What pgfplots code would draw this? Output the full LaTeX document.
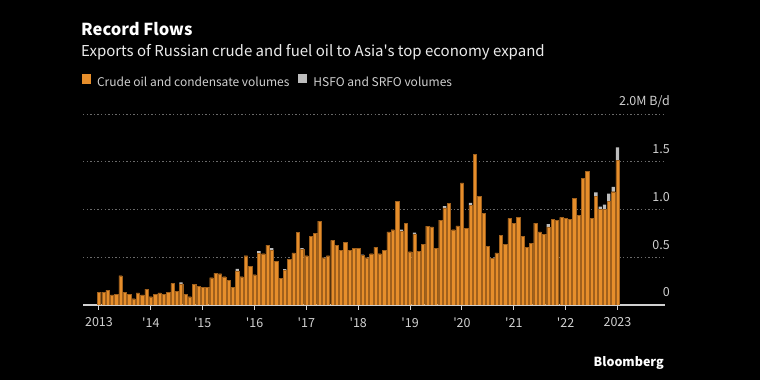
\documentclass[border=0pt]{standalone}
\usepackage{fontspec}
\setmainfont{Noto Sans CJK SC}[Ligatures=TeXOff]
\usepackage{pgfplots}
\pgfplotsset{compat=1.18}
\usepackage{pgfplotstable}
\definecolor{crude}{HTML}{E68E2B}
\definecolor{crudeedge}{HTML}{A0601C}
\definecolor{fuel}{HTML}{BDBDBD}
\definecolor{txt}{HTML}{D0D0D0}
\definecolor{gridc}{HTML}{6A6A6A}

\pgfplotstableread{
i crude fuel
0 0.136 0
1 0.136 0
2 0.157 0
3 0.105 0
4 0.115 0
5 0.307 0
6 0.136 0
7 0.115 0
8 0.066 0
9 0.126 0
10 0.105 0
11 0.167 0
12 0.087 0
13 0.115 0
14 0.126 0
15 0.115 0
16 0.136 0
17 0.227 0
18 0.146 0
19 0.222 0.015
20 0.115 0
21 0.087 0
22 0.216 0
23 0.195 0
24 0.188 0
25 0.188 0
26 0.286 0
27 0.335 0
28 0.328 0
29 0.296 0
30 0.258 0
31 0.185 0
32 0.357 0.02
33 0.296 0
34 0.516 0
35 0.408 0
36 0.317 0
37 0.540 0.025
38 0.537 0
39 0.626 0
40 0.575 0.02
41 0.458 0
42 0.277 0
43 0.365 0.01
44 0.478 0
45 0.545 0
46 0.760 0
47 0.580 0.015
48 0.516 0
49 0.716 0
50 0.748 0
51 0.879 0
52 0.495 0
53 0.516 0
54 0.676 0
55 0.626 0
56 0.575 0
57 0.655 0
58 0.575 0
59 0.596 0
60 0.596 0
61 0.517 0.01
62 0.495 0
63 0.537 0
64 0.607 0
65 0.537 0
66 0.575 0
67 0.767 0
68 0.788 0
69 1.088 0
70 0.770 0.018
71 0.858 0
72 0.558 0
73 0.742 0.015
74 0.560 0
75 0.633 0
76 0.826 0
77 0.819 0
78 0.596 0
79 0.889 0
80 1.016 0.02
81 1.068 0
82 0.788 0
83 0.828 0
84 1.280 0
85 0.805 0
86 1.044 0.025
87 1.579 0
88 1.138 0
89 0.959 0
90 0.617 0
91 0.488 0
92 0.547 0
93 0.729 0
94 0.638 0
95 0.908 0
96 0.858 0
97 0.918 0
98 0.718 0
99 0.605 0
100 0.647 0
101 0.858 0
102 0.767 0
103 0.739 0
104 0.817 0.03
105 0.896 0
106 0.888 0
107 0.917 0
108 0.910 0
109 0.898 0
110 1.118 0
111 0.938 0
112 1.328 0
113 1.398 0
114 0.908 0
115 1.135 0.045
116 1.005 0.025
117 1.002 0.05
118 1.088 0.078
119 1.186 0.05
120 1.515 0.135
}\data

\begin{document}
\begin{tikzpicture}[x=1pt,y=1pt]
\useasboundingbox (0pt,0pt) rectangle (760pt,380pt);
\fill[black] (0pt,0pt) rectangle (760pt,380pt);
\node[anchor=base west, inner sep=0, text=white, font=\fontsize{16.5}{20}\selectfont\bfseries] at (81pt,344pt) {Record Flows};
\node[anchor=base west, inner sep=0, text=white!92!black, font=\fontsize{15}{18}\selectfont] at (81pt,323.3pt) {Exports of Russian crude and fuel oil to Asia's top economy expand};
\node[anchor=base east, inner sep=0, text=white, font=\fontsize{12.5}{15}\selectfont\bfseries] at (664pt,13pt) {Bloomberg};
\begin{axis}[
  at={(83pt,75pt)}, anchor=south west,
  scale only axis, width=582pt, height=191pt,
  xmin=-3.7, xmax=131, ymin=0, ymax=2,
  ybar stacked, bar width=3.3pt,
  separate axis lines,
  axis x line*=bottom,
  axis y line*=right,
  x axis line style={draw=txt, line width=1.2pt, -},
  y axis line style={draw=none},
  ytick={0,0.5,1,1.5,2},
  yticklabels={0,0.5,1.0,1.5,2.0M B/d},
  ytick style={draw=none},
  y tick label style={anchor=base east, inner sep=0pt, xshift=0pt, yshift=8pt, text=txt, font=\fontsize{12.5}{14}\selectfont},
  ymajorgrids, grid style={gridc, line width=0.8pt, dash pattern=on 1.4pt off 2.2pt},
  xtick={0,12,...,120},
  xticklabels={2013,'14,'15,'16,'17,'18,'19,'20,'21,'22,2023},
  tick align=outside, major tick length=5pt,
  xtick style={draw=txt, line width=1pt},
  x tick label style={text=txt, font=\fontsize{12.5}{14}\selectfont, yshift=-4pt},
  legend style={at={(0,1)}, anchor=south west, xshift=-1.3pt, yshift=24pt, draw=none, fill=none, text=txt, font=\fontsize{12}{14}\selectfont, inner sep=0pt, outer sep=0pt, /tikz/every odd column/.append style={column sep=4.5pt}, /tikz/every even column/.append style={column sep=7pt}},
  legend columns=2, legend cell align=left,
]
\addplot[fill=crude, draw=crudeedge, line width=0.3pt, legend image code/.code={\fill[crude] (0pt,-0.5pt) rectangle (8.5pt,8.5pt);}] table[x=i, y=crude] {\data};
\addlegendentry{Crude oil and condensate volumes}
\addplot[fill=fuel, draw=none, legend image code/.code={\fill[fuel] (0pt,-0.5pt) rectangle (8.5pt,8.5pt);}] table[x=i, y=fuel] {\data};
\addlegendentry{HSFO and SRFO volumes}
\end{axis}
\end{tikzpicture}
\end{document}
